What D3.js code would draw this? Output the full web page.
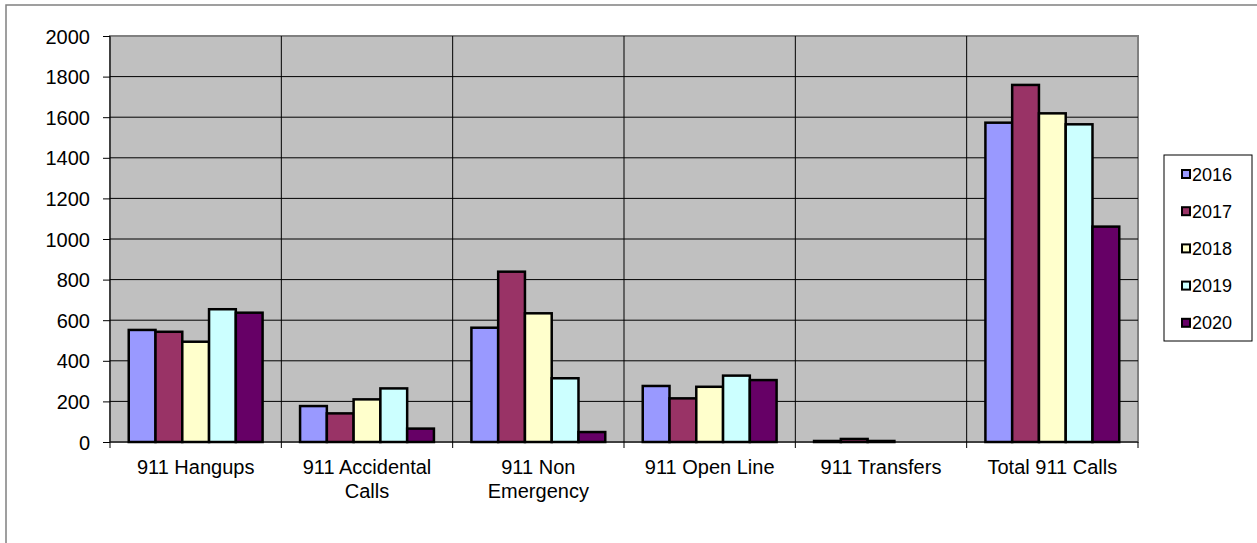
<!DOCTYPE html>
<html>
<head>
<meta charset="utf-8">
<script src="https://cdn.jsdelivr.net/npm/d3@7"></script>
<style>
  body { margin: 0; background: #fff; }
  text { font-family: Arial, "Liberation Sans", sans-serif; fill: #000; }
</style>
</head>
<body>
<svg id="chart" width="1257" height="543"></svg>
<script>
  var categories = ['911 Hangups', '911 Accidental Calls', '911 Non Emergency', '911 Open Line', '911 Transfers', 'Total 911 Calls'];
  var years = ['2016', '2017', '2018', '2019', '2020'];
  var values2016 = [552, 177, 563, 276, 5, 1573];
  var values2017 = [543, 141, 839, 215, 15, 1759];
  var values2018 = [494, 210, 634, 272, 5, 1619];
  var values2019 = [654, 264, 314, 327, 0, 1565];
  var values2020 = [637, 66, 49, 305, 0, 1061];
  var yTicks = [0, 200, 400, 600, 800, 1000, 1200, 1400, 1600, 1800, 2000];
  var colors = ['#9999FF', '#993366', '#FFFFCC', '#CCFFFF', '#660066'];

  var series = [values2016, values2017, values2018, values2019, values2020];

  var svg = d3.select('#chart');
  var plot = { left: 110, top: 36, right: 1138, bottom: 442 };

  // outer chart border, runs off right and bottom
  svg.append('rect')
    .attr('x', 6).attr('y', 5).attr('width', 1300).attr('height', 600)
    .attr('fill', 'none').attr('stroke', '#808080').attr('stroke-width', 1.5);

  var x = d3.scaleBand().domain(categories).range([plot.left, plot.right]).padding(0);
  var y = d3.scaleLinear().domain([0, 2000]).range([plot.bottom, plot.top]);
  var inner = d3.scaleBand().domain(years).range([0, x.bandwidth()]).paddingInner(0).paddingOuter(0.7);

  svg.append('rect')
    .attr('x', plot.left).attr('y', plot.top)
    .attr('width', plot.right - plot.left).attr('height', plot.bottom - plot.top)
    .attr('fill', '#C0C0C0').attr('stroke', '#808080').attr('stroke-width', 2);

  // horizontal grid
  svg.append('g').selectAll('line').data(yTicks.slice(1, -1)).enter().append('line')
    .attr('x1', plot.left).attr('x2', plot.right)
    .attr('y1', function(d){return y(d);}).attr('y2', function(d){return y(d);})
    .attr('stroke', '#000').attr('stroke-width', 1);

  // vertical grid between categories
  svg.append('g').selectAll('line').data(categories.slice(1)).enter().append('line')
    .attr('x1', function(d){return x(d);}).attr('x2', function(d){return x(d);})
    .attr('y1', plot.top).attr('y2', plot.bottom + 6)
    .attr('stroke', '#000').attr('stroke-width', 1);

  // bars
  years.forEach(function(yr, i) {
    svg.append('g').selectAll('rect').data(series[i]).enter().append('rect')
      .attr('x', function(d, j){return x(categories[j]) + inner(yr);})
      .attr('y', function(d){return y(d);})
      .attr('width', inner.bandwidth())
      .attr('height', function(d){return plot.bottom - y(d);})
      .attr('fill', colors[i])
      .attr('stroke', '#000').attr('stroke-width', function(d){return d > 0 ? 2.5 : 0;});
  });

  // y axis
  var yAxis = svg.append('g').attr('transform', 'translate(' + plot.left + ',0)')
    .call(d3.axisLeft(y).tickValues(yTicks).tickFormat(d3.format('d')).tickSize(7).tickPadding(13));
  yAxis.attr('font-size', null).attr('font-family', null);
  yAxis.select('.domain').attr('stroke', '#000').attr('d', 'M0,' + plot.top + 'V' + plot.bottom);
  yAxis.selectAll('text').style('font-size', '20px').attr('dy', '0.35em');

  // x axis
  svg.append('line')
    .attr('x1', plot.left).attr('x2', plot.right)
    .attr('y1', plot.bottom).attr('y2', plot.bottom)
    .attr('stroke', '#000');
  svg.append('line')
    .attr('x1', plot.left).attr('x2', plot.left)
    .attr('y1', plot.bottom).attr('y2', plot.bottom + 6)
    .attr('stroke', '#000');
  svg.append('line')
    .attr('x1', plot.right).attr('x2', plot.right)
    .attr('y1', plot.bottom).attr('y2', plot.bottom + 6)
    .attr('stroke', '#000');

  var wrapped = {
    '911 Accidental Calls': ['911 Accidental', 'Calls'],
    '911 Non Emergency': ['911 Non', 'Emergency']
  };
  var labels = svg.append('g').selectAll('text').data(categories).enter().append('text')
    .attr('x', function(d){return x(d) + x.bandwidth() / 2;})
    .attr('y', 474)
    .attr('text-anchor', 'middle')
    .style('font-size', '20px');
  labels.each(function(d) {
    var lines = wrapped[d] || [d];
    var t = d3.select(this);
    lines.forEach(function(l, k) {
      t.append('tspan').attr('x', t.attr('x')).attr('dy', k === 0 ? 0 : 24).text(l);
    });
  });

  // legend
  var legend = svg.append('g');
  legend.append('rect')
    .attr('x', 1164).attr('y', 155).attr('width', 88).attr('height', 186)
    .attr('fill', '#fff').attr('stroke', '#000').attr('stroke-width', 1);
  years.forEach(function(yr, i) {
    var cy = 174 + i * 37.2;
    legend.append('rect')
      .attr('x', 1182).attr('y', cy - 4).attr('width', 8).attr('height', 8)
      .attr('fill', colors[i]).attr('stroke', '#000').attr('stroke-width', 2);
    legend.append('text')
      .attr('x', 1192).attr('y', cy + 6.5)
      .style('font-size', '18px')
      .text(yr);
  });
</script>
</body>
</html>
